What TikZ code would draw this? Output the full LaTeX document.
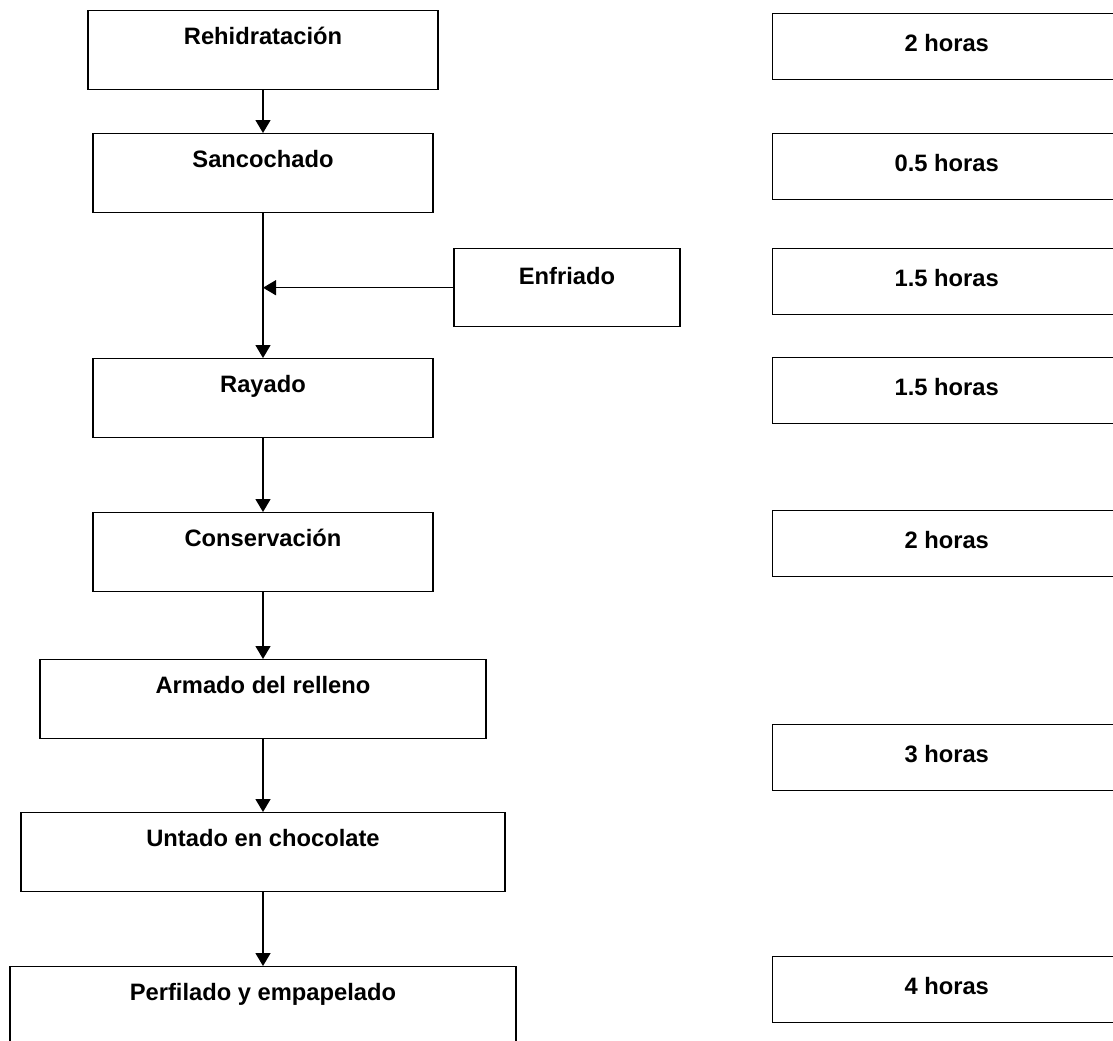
\documentclass[tikz,border=0pt]{standalone}
\usepackage{fontspec}
\setmainfont{Liberation Sans}
\usepackage{tikz}
\usetikzlibrary{arrows.meta,positioning}
\tikzset{
    proceso/.style={rectangle, draw=black, line width=0.8pt, inner xsep=0pt, inner ysep=0pt, text height=0.67cm, text depth=0.91cm, font=\fontsize{13.5}{16}\selectfont\bfseries},
    tiempo/.style={rectangle, draw=black, line width=0.8pt, inner xsep=0pt, inner ysep=0pt, minimum width=6.96cm, text height=0.75cm, text depth=0.57cm, font=\fontsize{13.5}{16}\selectfont\bfseries},
    arrow/.style={-{Triangle[length=0.26cm, width=0.3cm]}, line width=0.8pt}
}

\begin{document}
\begin{tikzpicture}

\useasboundingbox (0,0) rectangle (22.26,-20.8);

% Etapas del proceso
\node[proceso, minimum width=7cm, anchor=north] (reh) at (5.26,-0.2) {Rehidratación};
\node[proceso, minimum width=6.8cm, anchor=north] (san) at (5.26,-2.66) {Sancochado};
\node[proceso, minimum width=4.52cm, anchor=north, text height=0.71cm, text depth=0.85cm] (enf) at (11.34,-4.96) {Enfriado};
\node[proceso, minimum width=6.8cm, anchor=north] (ray) at (5.26,-7.16) {Rayado};
\node[proceso, minimum width=6.8cm, anchor=north] (con) at (5.26,-10.24) {Conservación};
\node[proceso, minimum width=8.92cm, anchor=north] (arm) at (5.26,-13.18) {Armado del relleno};
\node[proceso, minimum width=9.68cm, anchor=north] (unt) at (5.26,-16.24) {Untado en chocolate};
\node[proceso, minimum width=10.12cm, anchor=north] (per) at (5.26,-19.32) {Perfilado y empapelado};

% Tiempos
\node[tiempo, anchor=north west] (t1) at (15.44,-0.26) {2 horas};
\node[tiempo, anchor=north west] (t2) at (15.44,-2.66) {0.5 horas};
\node[tiempo, anchor=north west] (t3) at (15.44,-4.96) {1.5 horas};
\node[tiempo, anchor=north west] (t4) at (15.44,-7.14) {1.5 horas};
\node[tiempo, anchor=north west] (t5) at (15.44,-10.2) {2 horas};
\node[tiempo, anchor=north west] (t6) at (15.44,-14.48) {3 horas};
\node[tiempo, anchor=north west] (t7) at (15.44,-19.12) {4 horas};

% Flechas
\draw[arrow] (reh.south) -- (san.north);
\draw[arrow] (san.south) -- (ray.north);
\draw[arrow] (enf.west) -- (enf.west -| san.south);
\draw[arrow] (ray.south) -- (con.north);
\draw[arrow] (con.south) -- (arm.north);
\draw[arrow] (arm.south) -- (unt.north);
\draw[arrow] (unt.south) -- (per.north);

\end{tikzpicture}
\end{document}
